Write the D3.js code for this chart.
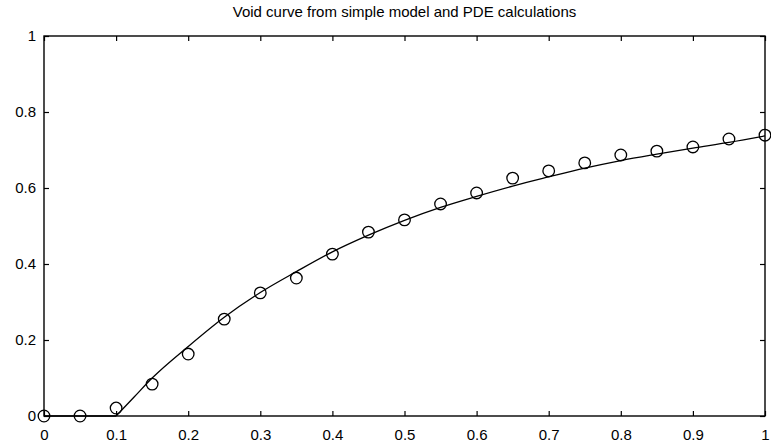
<!DOCTYPE html>
<html lang="en">
<head>
<meta charset="UTF-8">
<title>Void curve</title>
<style>
  body { margin: 0; background: #fff; }
  svg text { font-family: "Liberation Sans", Arial, sans-serif; fill: #000; }
</style>
</head>
<body>
<script src="https://cdn.jsdelivr.net/npm/d3@7"></script>
<div id="chart"></div>
<script>
// PDE points (circles)
const pointX = [0, 0.05, 0.1, 0.15, 0.2, 0.25, 0.3, 0.35, 0.4, 0.45, 0.5,
                0.55, 0.6, 0.65, 0.7, 0.75, 0.8, 0.85, 0.9, 0.95, 1.0];
const pointY = [0, 0, 0.021, 0.084, 0.163, 0.255, 0.324, 0.363, 0.426, 0.484, 0.516,
                0.558, 0.587, 0.626, 0.645, 0.666, 0.687, 0.697, 0.708, 0.729, 0.739];

// simple model (solid line), zero up to x = 0.1
const curveX = [0, 0.1, 0.125, 0.15, 0.2, 0.25, 0.3, 0.35, 0.4, 0.45, 0.5,
                0.55, 0.6, 0.65, 0.7, 0.75, 0.8, 0.85, 0.9, 0.95, 1.0];
const curveY = [0, 0, 0.05, 0.10, 0.183, 0.26, 0.325, 0.38, 0.432, 0.476, 0.515,
                0.549, 0.578, 0.605, 0.629, 0.652, 0.672, 0.689, 0.705, 0.72, 0.737];

const xTicks = [0, 0.1, 0.2, 0.3, 0.4, 0.5, 0.6, 0.7, 0.8, 0.9, 1];
const yTicks = [0, 0.2, 0.4, 0.6, 0.8, 1];
const title = "Void curve from simple model and PDE calculations";

const W = 771, H = 446;
const margin = {top: 36, right: 6, bottom: 30, left: 44};

const svg = d3.select("#chart").append("svg")
    .attr("width", W)
    .attr("height", H);

const x = d3.scaleLinear().domain([0, 1]).range([margin.left, W - margin.right]);
const y = d3.scaleLinear().domain([0, 1]).range([H - margin.bottom, margin.top]);

const fmt = d => d3.format("")(d);

// axes, ticks pointing inwards
const axBottom = svg.append("g")
    .attr("transform", "translate(0," + y(0) + ")")
    .call(d3.axisBottom(x).tickValues(xTicks).tickSizeInner(-5).tickSizeOuter(0).tickPadding(13).tickFormat(fmt));
const axTop = svg.append("g")
    .attr("transform", "translate(0," + y(1) + ")")
    .call(d3.axisTop(x).tickValues(xTicks).tickSizeInner(-5).tickSizeOuter(0).tickFormat(""));
const axLeft = svg.append("g")
    .attr("transform", "translate(" + x(0) + ",0)")
    .call(d3.axisLeft(y).tickValues(yTicks).tickSizeInner(-5).tickSizeOuter(0).tickPadding(8).tickFormat(fmt));
const axRight = svg.append("g")
    .attr("transform", "translate(" + x(1) + ",0)")
    .call(d3.axisRight(y).tickValues(yTicks).tickSizeInner(-5).tickSizeOuter(0).tickFormat(""));

[axBottom, axTop, axLeft, axRight].forEach(g => {
  g.select(".domain").remove();
  g.selectAll("line").attr("stroke", "#000").attr("stroke-width", 1.2);
  g.selectAll("text").style("font-size", "15px").attr("fill", "#000");
});

// frame
svg.append("rect")
    .attr("x", x(0)).attr("y", y(1))
    .attr("width", x(1) - x(0)).attr("height", y(0) - y(1))
    .attr("fill", "none").attr("stroke", "#000").attr("stroke-width", 1.4);

// model curve
const line = d3.line()
    .x(d => x(d[0]))
    .y(d => y(d[1]));

const pts = curveX.map((v, i) => [v, curveY[i]]);
svg.append("path")
    .datum(pts.slice(0, 2))
    .attr("d", line)
    .attr("fill", "none")
    .attr("stroke", "#000")
    .attr("stroke-width", 1.3);
svg.append("path")
    .datum(pts.slice(1))
    .attr("d", line.curve(d3.curveMonotoneX))
    .attr("fill", "none")
    .attr("stroke", "#000")
    .attr("stroke-width", 1.3);

// circles
svg.append("g").selectAll("circle")
    .data(pointX.map((v, i) => [v, pointY[i]]))
    .join("circle")
    .attr("cx", d => x(d[0]))
    .attr("cy", d => y(d[1]))
    .attr("r", 5.8)
    .attr("fill", "none")
    .attr("stroke", "#000")
    .attr("stroke-width", 1.3);

// title
svg.append("text")
    .attr("x", (x(0) + x(1)) / 2)
    .attr("y", 17)
    .attr("text-anchor", "middle")
    .style("font-size", "15px")
    .text(title);
</script>
</body>
</html>
